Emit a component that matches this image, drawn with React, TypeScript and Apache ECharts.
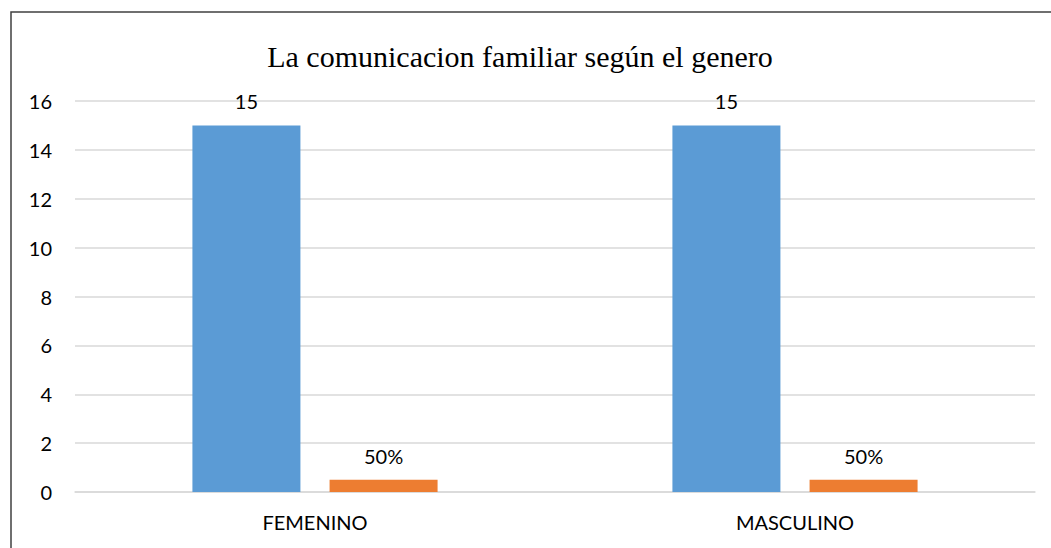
import React, { useEffect, useRef } from "react";
import * as echarts from "echarts";

const categories = ["FEMENINO", "MASCULINO"];
const counts = [15, 15];
const shares = [0.5, 0.5];
const yTicks = { min: 0, max: 16, interval: 2 };
const titleText = "La comunicacion familiar según el genero";

export default function App() {
  const ref = useRef<HTMLDivElement>(null);
  useEffect(() => {
    document.body.style.margin = "0";
    const chart = echarts.init(ref.current!, undefined, { renderer: "svg" });
    const labelFont = "Lato, 'Open Sans', sans-serif";
    chart.setOption({
      animation: false,
      backgroundColor: "#ffffff",
      graphic: [
        {
          type: "rect",
          shape: { x: 11, y: 12, width: 1100, height: 600 },
          style: { fill: "none", stroke: "#404040", lineWidth: 1.5 },
          silent: true,
        },
      ],
      title: {
        text: titleText,
        left: 515,
        top: 36,
        textAlign: "center",
        textStyle: {
          fontFamily: "'Liberation Serif', 'Times New Roman', serif",
          fontSize: 30,
          fontWeight: "normal",
          color: "#000000",
        },
      },
      grid: { left: 75, right: 16, top: 101, bottom: 56, containLabel: false },
      xAxis: {
        type: "category",
        data: categories,
        axisLine: { show: true, lineStyle: { color: "#d9d9d9", width: 1.5 } },
        axisTick: { show: false },
        axisLabel: {
          color: "#000",
          fontFamily: labelFont,
          fontSize: 20,
          margin: 20,
        },
      },
      yAxis: {
        type: "value",
        min: yTicks.min,
        max: yTicks.max,
        interval: yTicks.interval,
        axisLine: { show: false },
        axisTick: { show: false },
        splitLine: { lineStyle: { color: "#d9d9d9", width: 1.5 } },
        axisLabel: {
          color: "#000",
          fontFamily: labelFont,
          fontSize: 20,
          margin: 23,
        },
      },
      series: [
        {
          type: "bar",
          data: counts,
          barWidth: "22.5%",
          barGap: "27%",
          itemStyle: { color: "#5B9BD5" },
          label: {
            show: true,
            position: "top",
            distance: 14,
            color: "#000",
            fontFamily: labelFont,
            fontSize: 20,
          },
        },
        {
          type: "bar",
          data: shares,
          barWidth: "22.5%",
          barGap: "27%",
          itemStyle: { color: "#ED7D31" },
          label: {
            show: true,
            position: "top",
            distance: 14,
            color: "#000",
            fontFamily: labelFont,
            fontSize: 20,
            formatter: (p: any) => `${Math.round(p.value * 100)}%`,
          },
        },
      ],
    });
    return () => chart.dispose();
  }, []);
  return <div ref={ref} style={{ width: 1051, height: 548 }} />;
}
